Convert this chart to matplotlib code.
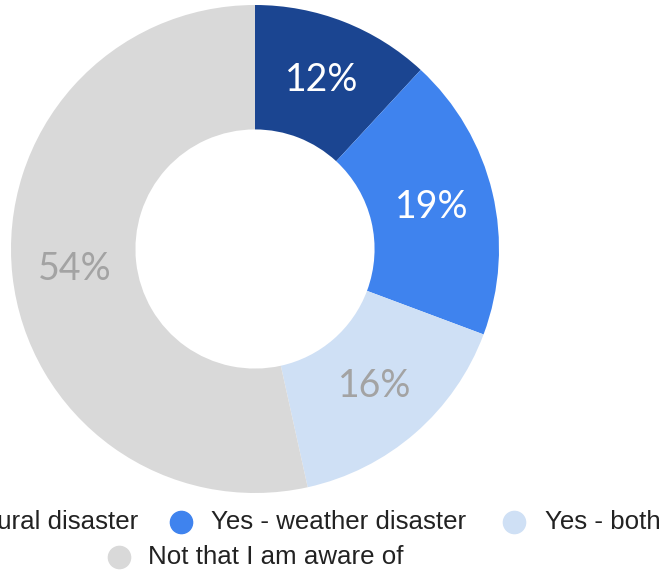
import matplotlib
matplotlib.use("Agg")
import matplotlib.pyplot as plt
import numpy as np

categories = ["Yes - natural disaster", "Yes - weather disaster", "Yes - both", "Not that I am aware of"]
values = [12, 19, 16, 54]
pct_labels = ["12%", "19%", "16%", "54%"]
colors = ["#1b4591", "#3f83ee", "#cfe0f5", "#d9d9d9"]
label_colors = ["white", "white", "#a3a3a3", "#a3a3a3"]

W, H = 664, 576
fig = plt.figure(figsize=(W / 100, H / 100), dpi=100)

# donut axes: centre at (255, 249) px, outer radius 244 px
cx, cy, r = 255, 249, 244
ax = fig.add_axes([(cx - r) / W, (H - cy - r) / H, 2 * r / W, 2 * r / H])

ring = 0.51
wedges, _ = ax.pie(values, colors=colors, startangle=90, counterclock=False,
                   radius=1, wedgeprops=dict(width=ring, linewidth=0))
ax.set_xlim(-1, 1)
ax.set_ylim(-1, 1)
ax.axis("off")

mid_r = 1 - ring / 2
for w, lab, lc in zip(wedges, pct_labels, label_colors):
    ang = np.deg2rad((w.theta1 + w.theta2) / 2)
    ax.text(mid_r * np.cos(ang), mid_r * np.sin(ang), lab, ha="center", va="center",
            fontsize=27, color=lc, family=["Lato", "DejaVu Sans"], fontweight="normal")

# legend drawn in pixel coordinates
lg = fig.add_axes([0, 0, 1, 1])
lg.set_xlim(0, W)
lg.set_ylim(H, 0)
lg.axis("off")

rows = [
    # (marker x, text x, y)
    (-134, -104, 522),
    (181, 211, 522),
    (514, 545, 522),
    (119, 148, 557),
]
for (mx, tx, y), cat, col in zip(rows, categories, colors):
    lg.plot([mx], [y], marker="o", markersize=16, color=col, linestyle="none", clip_on=False)
    lg.text(tx, y, cat, ha="left", va="center", fontsize=18.6,
            color="#222222", family=["Liberation Sans", "DejaVu Sans"])

fig.savefig("out.png", dpi=100)
